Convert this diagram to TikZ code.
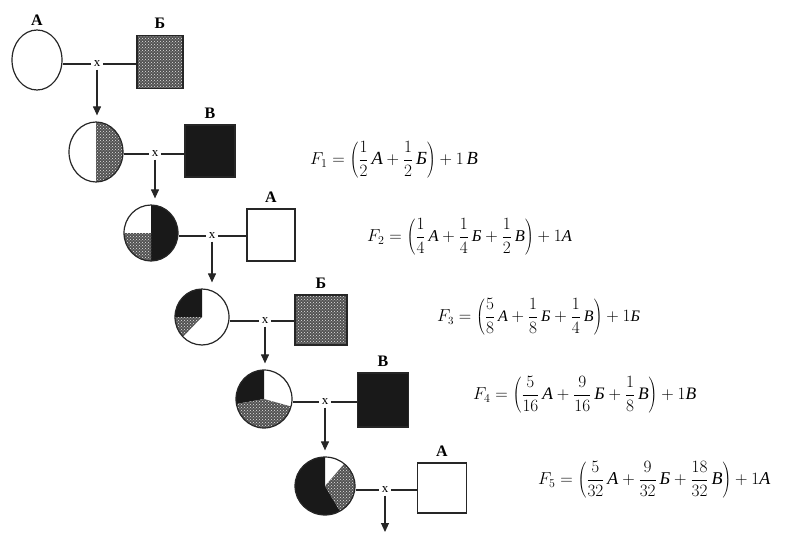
\documentclass[tikz,border=0pt]{standalone}
\usepackage{fontspec}
\setmainfont{Liberation Serif}
\usetikzlibrary{arrows.meta,shapes.geometric,patterns}
% italic genotype letters for the formulas
\newcommand\gA{\textit{А}}
\newcommand\gB{\textit{Б}}
\newcommand\gV{\textit{В}}
% one sector of an elliptic disc: style, cx, cy, rx, ry, start, end
\newcommand\slice[7]{%
  \begin{scope}[shift={(#2,#3)},xscale=#4,yscale=#5]
    \path[#1] (0,0) -- (#6:1) arc[start angle=#6,end angle=#7,radius=1] -- cycle;
  \end{scope}}
\begin{document}
\begin{tikzpicture}[x=1pt,y=1pt,
  line/.style={line width=1.1pt, draw=black!85},
  arr/.style={line width=1.1pt, draw=black!85, -{Triangle[width=8pt,length=9pt]}, shorten >=6pt},
  ring/.style={ellipse, draw=black!85, line width=1.2pt, inner sep=0pt},
  box/.style={rectangle, draw=black!85, line width=1.4pt, inner sep=0pt},
  speck/.style={preaction={fill=black!68}, pattern=crosshatch dots, pattern color=white!90!black},
  dark/.style={fill=black!90},
  cross/.style={font=\fontsize{13}{13}\selectfont, inner sep=2.5pt},
  lab/.style={font=\fontsize{16}{16}\selectfont\bfseries, inner sep=1pt},
  formula/.style={anchor=west, inner sep=0pt}]
\useasboundingbox (0,0) rectangle (785,-535);

% ---- filled sectors of the offspring circles ----
\slice{speck}{96}{-152}{27}{30}{90}{-90}
\slice{dark}{151}{-233}{27}{28}{90}{-90}
\slice{speck}{151}{-233}{27}{28}{180}{270}
\slice{dark}{202}{-317}{27}{28}{90}{180}
\slice{speck}{202}{-317}{27}{28}{180}{225}
\slice{dark}{264}{-399}{28}{29}{90}{190}
\slice{speck}{264}{-399}{28}{29}{190}{345}
\slice{dark}{325}{-486}{30}{29}{90}{300}
\slice{speck}{325}{-486}{30}{29}{300}{410}

% ---- females (circles) ----
\node[ring, minimum width=50, minimum height=60] (c1) at (37,-60) {};
\node[ring, minimum width=54, minimum height=60] (c2) at (96,-152) {};
\node[ring, minimum width=54, minimum height=56] (c3) at (151,-233) {};
\node[ring, minimum width=54, minimum height=56] (c4) at (202,-317) {};
\node[ring, minimum width=56, minimum height=58] (c5) at (264,-399) {};
\node[ring, minimum width=60, minimum height=58] (c6) at (325,-486) {};

% ---- males (squares) ----
\node[box, speck, minimum width=46, minimum height=53] (s1) at (160,-62) {};
\node[box, dark,  minimum width=50, minimum height=52] (s2) at (210,-151) {};
\node[box,        minimum width=48, minimum height=52] (s3) at (271,-235) {};
\node[box, speck, minimum width=52, minimum height=50] (s4) at (321,-320) {};
\node[box, dark,  minimum width=51, minimum height=54] (s5) at (383,-400) {};
\node[box,        minimum width=49, minimum height=50] (s6) at (442,-488) {};

% ---- labels ----
\node[lab] (la) at (37,-20) {А};
\node[lab, anchor=south] (l1) at ([yshift=5pt]s1.north) {Б};
\node[lab, anchor=south] (l2) at ([yshift=5pt]s2.north) {В};
\node[lab, anchor=south] (l3) at ([yshift=5pt]s3.north) {А};
\node[lab, anchor=south] (l4) at ([yshift=5pt]s4.north) {Б};
\node[lab, anchor=south] (l5) at ([yshift=5pt]s5.north) {В};
\node[lab, anchor=south] (l6) at ([yshift=5pt]s6.north) {А};

% ---- crossing marks ----
\node[cross] (x1) at (97,-64) {x};
\node[cross] (x2) at (155,-154) {x};
\node[cross] (x3) at (212,-236) {x};
\node[cross] (x4) at (265,-321) {x};
\node[cross] (x5) at (325,-402) {x};
\node[cross] (x6) at (385,-490) {x};
\coordinate (tail) at (385,-532);

% ---- mating lines ----
\foreach \i in {1,...,6}{
  \draw[line] (c\i.east |- x\i.west) -- (x\i.west);
  \draw[line] (x\i.east) -- (x\i.east -| s\i.west);
}

% ---- descent arrows ----
\draw[arr] (x1.south) -- (x1.south |- c2.north);
\draw[arr] (x2.south) -- (x2.south |- c3.north);
\draw[arr] (x3.south) -- (x3.south |- c4.north);
\draw[arr] (x4.south) -- (x4.south |- c5.north);
\draw[arr] (x5.south) -- (x5.south |- c6.north);
\draw[arr, shorten >=0pt] (x6.south) -- (tail);

% ---- generation formulas ----
\node[formula, font=\fontsize{18.5}{20}\selectfont] (f1) at (310,-160)
  {$\displaystyle F_1=\left(\frac{1}{2}\,\gA+\frac{1}{2}\,\gB\right)+1\,\gV$};
\node[formula, font=\fontsize{16.5}{18}\selectfont] (f2) at (367,-237)
  {$\displaystyle F_2=\left(\frac{1}{4}\,\gA+\frac{1}{4}\,\gB+\frac{1}{2}\,\gV\right)+1\gA$};
\node[formula, font=\fontsize{16}{18}\selectfont] (f3) at (437,-317)
  {$\displaystyle F_3=\left(\frac{5}{8}\,\gA+\frac{1}{8}\,\gB+\frac{1}{4}\,\gV\right)+1\gB$};
\node[formula, font=\fontsize{17.5}{19}\selectfont] (f4) at (473,-395)
  {$\displaystyle F_4=\left(\frac{5}{16}\,\gA+\frac{9}{16}\,\gB+\frac{1}{8}\,\gV\right)+1\gV$};
\node[formula, font=\fontsize{18}{20}\selectfont] (f5) at (538,-480)
  {$\displaystyle F_5=\left(\frac{5}{32}\,\gA+\frac{9}{32}\,\gB+\frac{18}{32}\,\gV\right)+1\gA$};
\end{tikzpicture}
\end{document}
